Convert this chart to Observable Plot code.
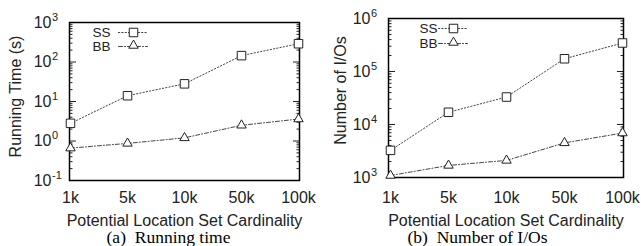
<!DOCTYPE html>
<html>
<head>
<meta charset="utf-8">
<script src="https://cdn.jsdelivr.net/npm/d3@7"></script>
<script src="https://cdn.jsdelivr.net/npm/@observablehq/plot@0.6"></script>
<style>
  html, body { margin: 0; padding: 0; background: white; }
  #wrap { display: flex; width: 641px; height: 246px; overflow: hidden; }
  #wrap svg { display: block; }
</style>
</head>
<body>
<div id="wrap"></div>
<script>
// ---- data ----
const categories = ["1k", "5k", "10k", "50k", "100k"];
const timeSS = [2.8, 14, 28, 145, 290];
const timeBB = [0.66, 0.87, 1.2, 2.5, 3.6];
const ioSS = [3250, 17000, 33000, 174000, 345000];
const ioBB = [1090, 1690, 2100, 4500, 6900];
const timeExponents = [-1, 0, 1, 2, 3];
const ioExponents = [3, 4, 5, 6];
const seriesNames = ["SS", "BB"];
const xTitle = "Potential Location Set Cardinality";

const lineShape = { draw(ctx, l) { ctx.moveTo(0, 0); ctx.lineTo(0, -l); } };

function chart(o) {
  const rows = categories.map((c, i) => ({ cat: c, ss: o.ss[i], bb: o.bb[i] }));
  const exps = o.exps;
  const major = exps.map(e => Math.pow(10, e));
  const minor = [];
  for (let i = 0; i < exps.length - 1; i++)
    for (let k = 2; k <= 9; k++) minor.push(k * Math.pow(10, exps[i]));
  const expText = d => String(Math.round(Math.log10(d)));
  const ink = "#222";
  return Plot.plot({
    width: o.width, height: 246,
    marginLeft: o.ml, marginRight: o.mr, marginTop: o.mt, marginBottom: o.mb,
    style: { fontFamily: "Liberation Sans, Arial, sans-serif", fontSize: "16px", background: "white", color: ink },
    x: { type: "point", domain: categories, padding: 0, label: null },
    y: { type: "log", domain: [major[0], major[major.length - 1]], label: null },
    marks: [
      // tick marks, inward, both sides
      Plot.axisY(major, { anchor: "left", tickSize: -7, tickFormat: () => "", label: null, strokeWidth: 1 }),
      Plot.axisY(major, { anchor: "right", tickSize: -7, tickFormat: () => "", label: null, strokeWidth: 1 }),
      Plot.axisY(minor, { anchor: "left", tickSize: -3.5, tickFormat: () => "", label: null, strokeWidth: 1 }),
      Plot.axisY(minor, { anchor: "right", tickSize: -3.5, tickFormat: () => "", label: null, strokeWidth: 1 }),
      // tick labels 10^n
      Plot.axisY(major, { anchor: "left", tickSize: 0, tickPadding: 18, tickFormat: () => "10", label: null, fontSize: 16 }),
      Plot.axisY(major, { anchor: "left", tickSize: 0, tickPadding: 17.5, tickFormat: expText, textAnchor: "start", label: null, fontSize: 11, dy: -5.5 }),
      Plot.axisX({ tickSize: 0, tickPadding: o.xPad, label: null, fontSize: 16 }),
      Plot.frame({ stroke: "black", strokeWidth: 1.5 }),
      // series
      Plot.line(rows, { x: "cat", y: "ss", stroke: "#444", strokeWidth: 1, strokeDasharray: "1.3,2" }),
      Plot.line(rows, { x: "cat", y: "bb", stroke: "#444", strokeWidth: 1, strokeDasharray: "4,2,1,2" }),
      Plot.dot(rows, { x: "cat", y: "ss", symbol: "square", r: 4.8, stroke: ink, fill: "white", strokeWidth: 1 }),
      Plot.dot(rows, { x: "cat", y: "bb", symbol: "triangle", r: 3.5, stroke: ink, fill: "white", strokeWidth: 1 }),
      // legend
      Plot.text([seriesNames[0]], { text: d => d, frameAnchor: "top-left", dx: o.legTextDx, dy: o.legDy1, textAnchor: "end", lineAnchor: "middle", fontSize: 13.5, fill: ink }),
      Plot.text([seriesNames[1]], { text: d => d, frameAnchor: "top-left", dx: o.legTextDx, dy: o.legDy2, textAnchor: "end", lineAnchor: "middle", fontSize: 13.5, fill: ink }),
      Plot.vector([0], { frameAnchor: "top-left", dx: o.legLineDx, dy: o.legDy1, length: 29, rotate: 90, anchor: "start", shape: lineShape, stroke: "#444", strokeWidth: 1, strokeDasharray: "1.3,2" }),
      Plot.vector([0], { frameAnchor: "top-left", dx: o.legLineDx, dy: o.legDy2, length: 29, rotate: 90, anchor: "start", shape: lineShape, stroke: "#444", strokeWidth: 1, strokeDasharray: "4,2,1,2" }),
      Plot.dot([0], { frameAnchor: "top-left", dx: o.legLineDx + 15, dy: o.legDy1, symbol: "square", r: 4.8, stroke: ink, fill: "white", strokeWidth: 1 }),
      Plot.dot([0], { frameAnchor: "top-left", dx: o.legLineDx + 15, dy: o.legDy2 - 1, symbol: "triangle", r: 3.5, stroke: ink, fill: "white", strokeWidth: 1 }),
      // titles
      Plot.text([xTitle], { text: d => d, frameAnchor: "bottom", dy: o.xTitleDy, lineAnchor: "middle", textAnchor: "middle", fill: ink }),
      Plot.text([o.yTitle], { text: d => d, frameAnchor: "left", rotate: -90, dx: o.yTitleDx, dy: o.yTitleDy, textAnchor: "middle", lineAnchor: "middle", fill: ink }),
      Plot.text([o.caption], { text: d => d, frameAnchor: "bottom", dx: o.capDx, dy: o.capDy, lineAnchor: "middle", textAnchor: "middle", fontFamily: "Liberation Serif, Times New Roman, serif", fontSize: o.capSize, fill: "black" })
    ]
  });
}

const wrap = document.getElementById("wrap");
wrap.appendChild(chart({
  ss: timeSS, bb: timeBB, exps: timeExponents,
  width: 320, ml: 69, mr: 21, mt: 22, mb: 66,
  xPad: 11, xTitleDy: 40,
  yTitle: "Running Time (s)", yTitleDx: -54, yTitleDy: -5,
  caption: "(a)\u00a0 Running time", capDx: -16, capDy: 57, capSize: 17.5,
  legTextDx: 41, legLineDx: 49, legDy1: 10, legDy2: 24
}));
wrap.appendChild(chart({
  ss: ioSS, bb: ioBB, exps: ioExponents,
  width: 321, ml: 68, mr: 18, mt: 18, mb: 69,
  xPad: 14, xTitleDy: 43,
  yTitle: "Number of I/Os", yTitleDx: -48, yTitleDy: -7.5,
  caption: "(b)\u00a0 Number of I/Os", capDx: -28.5, capDy: 60, capSize: 17.5,
  legTextDx: 49, legLineDx: 50, legDy1: 10, legDy2: 25
}));
</script>
</body>
</html>
